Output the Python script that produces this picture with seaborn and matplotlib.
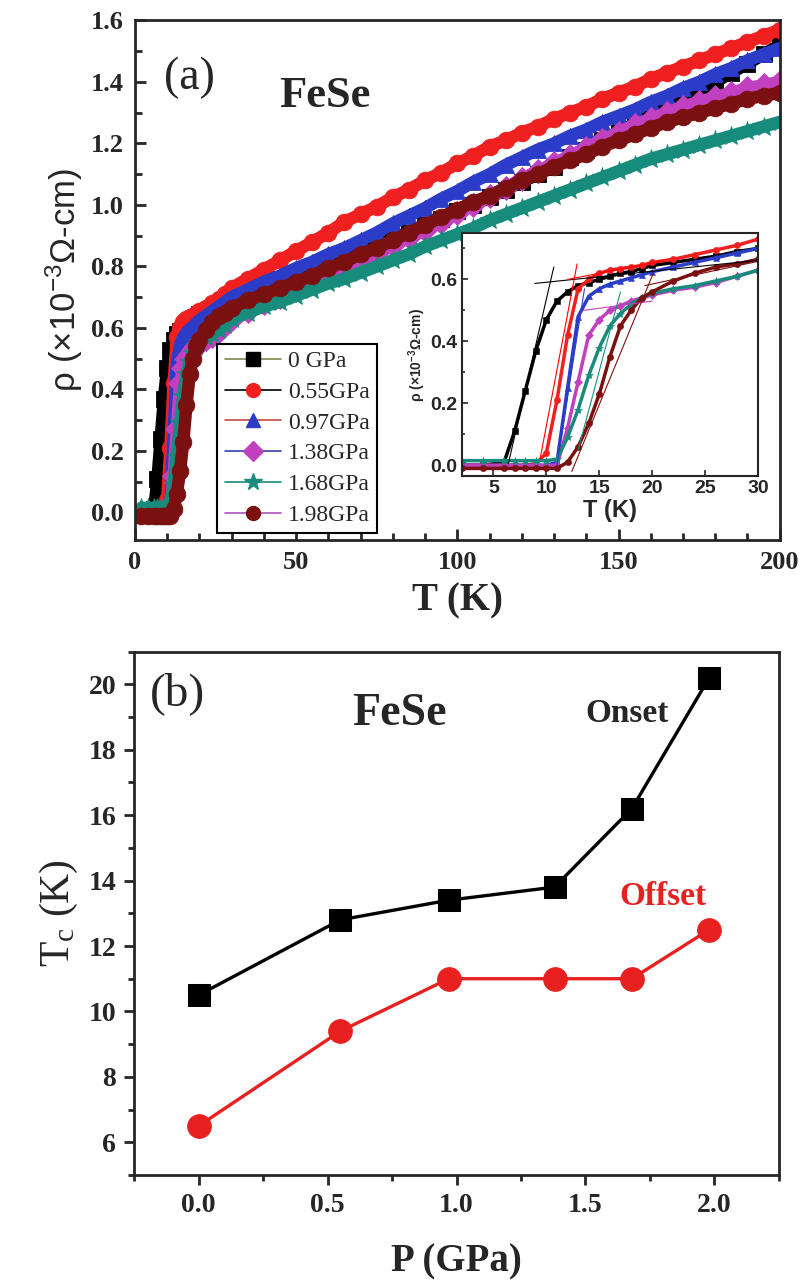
import matplotlib
matplotlib.use('Agg')
from matplotlib import pyplot as plt
from matplotlib.lines import Line2D
from matplotlib.ticker import MultipleLocator
import seaborn as sns
import pandas as pd

####### DATA #######
temps = [2, 4, 6, 7, 8, 9, 10, 11, 12, 13, 14, 15, 16, 17, 18, 19, 20, 22, 24, 26, 28, 30,
         35, 40, 45, 50, 55, 60, 65, 70, 75, 80, 85, 90, 95, 100, 105, 110, 115, 120,
         125, 130, 135, 140, 145, 150, 155, 160, 165, 170, 175, 180, 185, 190, 195, 200]

rho_0 = [0.0, 0.0, 0.01, 0.11, 0.24, 0.37, 0.47, 0.53, 0.56, 0.58, 0.59, 0.60, 0.61, 0.62, 0.625,
         0.635, 0.645, 0.655, 0.665, 0.675, 0.69, 0.70,
         0.72, 0.74, 0.76, 0.78, 0.80, 0.815, 0.83, 0.85, 0.87, 0.89, 0.91, 0.935, 0.955,
         0.98, 1.0, 1.025, 1.05, 1.075, 1.10, 1.125, 1.155, 1.18, 1.21, 1.235, 1.265, 1.29,
         1.32, 1.345, 1.375, 1.40, 1.43, 1.46, 1.49, 1.52]
rho_055 = [0.0, 0.0, 0.0, 0.0, 0.0, 0.005, 0.04, 0.21, 0.42, 0.57, 0.60, 0.62, 0.63, 0.635, 0.64,
           0.645, 0.655, 0.665, 0.68, 0.695, 0.71, 0.73,
           0.76, 0.79, 0.82, 0.85, 0.88, 0.91, 0.945, 0.97, 0.995, 1.025, 1.05, 1.08, 1.105,
           1.135, 1.16, 1.19, 1.21, 1.235, 1.255, 1.28, 1.30, 1.32, 1.345, 1.365, 1.385, 1.41,
           1.43, 1.45, 1.47, 1.49, 1.51, 1.53, 1.55, 1.57]
rho_097 = [0.0, 0.0, 0.0, 0.0, 0.0, 0.0, 0.0, 0.01, 0.25, 0.48, 0.545, 0.57, 0.585, 0.595, 0.605,
           0.615, 0.625, 0.64, 0.655, 0.67, 0.685, 0.70,
           0.725, 0.75, 0.77, 0.795, 0.815, 0.84, 0.86, 0.885, 0.91, 0.94, 0.965, 0.99, 1.02,
           1.045, 1.075, 1.10, 1.13, 1.155, 1.18, 1.20, 1.225, 1.245, 1.27, 1.29, 1.31, 1.335,
           1.355, 1.38, 1.40, 1.425, 1.445, 1.47, 1.49, 1.51]
rho_138 = [0.0, 0.0, 0.0, 0.0, 0.0, 0.0, 0.0, 0.0, 0.12, 0.27, 0.42, 0.47, 0.50, 0.515, 0.53,
           0.54, 0.55, 0.565, 0.575, 0.59, 0.61, 0.63,
           0.655, 0.68, 0.70, 0.725, 0.745, 0.77, 0.795, 0.82, 0.845, 0.87, 0.895, 0.92, 0.945,
           0.975, 1.00, 1.03, 1.055, 1.085, 1.11, 1.135, 1.16, 1.185, 1.21, 1.235, 1.26, 1.28,
           1.30, 1.32, 1.335, 1.35, 1.365, 1.38, 1.39, 1.40]
rho_168 = [0.015, 0.015, 0.015, 0.015, 0.015, 0.015, 0.015, 0.02, 0.09, 0.18, 0.29, 0.38, 0.45,
           0.49, 0.52, 0.54, 0.555, 0.57, 0.58, 0.595, 0.61, 0.63,
           0.65, 0.67, 0.685, 0.705, 0.725, 0.745, 0.76, 0.78, 0.80, 0.82, 0.84, 0.865, 0.885,
           0.905, 0.925, 0.95, 0.97, 0.99, 1.01, 1.03, 1.05, 1.07, 1.09, 1.11, 1.13, 1.15,
           1.165, 1.18, 1.195, 1.21, 1.225, 1.24, 1.255, 1.27]
rho_198 = [-0.01, -0.01, -0.01, -0.01, -0.01, -0.01, -0.01, -0.01, 0.01, 0.06, 0.135, 0.23, 0.35,
           0.45, 0.50, 0.54, 0.56, 0.595, 0.62, 0.64, 0.65, 0.665,
           0.69, 0.71, 0.73, 0.75, 0.77, 0.795, 0.815, 0.84, 0.86, 0.885, 0.91, 0.935, 0.96,
           0.985, 1.01, 1.03, 1.055, 1.08, 1.10, 1.125, 1.145, 1.165, 1.19, 1.21, 1.23, 1.25,
           1.27, 1.285, 1.30, 1.315, 1.33, 1.345, 1.355, 1.365]

labels = ['0 GPa', '0.55GPa', '0.97GPa', '1.38GPa', '1.68GPa', '1.98GPa']
all_rho = [rho_0, rho_055, rho_097, rho_138, rho_168, rho_198]

# tangent lines used for Tc in the inset: (color, T pair, rho pair)
fit_lines = [('black', [6.4, 10.7], [0.005, 0.64]),
             ('black', [8.9, 30.9], [0.587, 0.665]),
             ('red', [9.4, 12.9], [0.02, 0.65]),
             ('red', [12.0, 21.0], [0.60, 0.66]),
             ('#3040c0', [11.0, 13.6], [0.0, 0.57]),
             ('#c040c0', [13.5, 20.0], [0.50, 0.53]),
             ('#1a8f80', [13.0, 17.0], [0.05, 0.56]),
             ('#7a1010', [12.4, 20.1], [-0.02, 0.62]),
             ('#7a1010', [19.3, 30.9], [0.58, 0.665])]

pressure = [0.0, 0.55, 0.97, 1.38, 1.68, 1.98]
tc_onset = [10.5, 12.8, 13.4, 13.8, 16.2, 20.2]
tc_offset = [6.5, 9.4, 11.0, 11.0, 11.0, 12.5]
##### END DATA #####

MARKER_COL = ['#000000', '#f02020', '#2a3cc8', '#c040c0', '#178c7c', '#7a1010']
LINE_COL = ['#7c8a4a', '#000000', '#c04848', '#3040b0', '#178c7c', '#b050c0']
MARKERS = ['s', 'o', '^', 'D', '*', 'o']

sns.set_style('ticks')
plt.rcParams['font.family'] = ['Liberation Serif', 'DejaVu Serif']
plt.rcParams['mathtext.default'] = 'regular'
plt.rcParams['axes.linewidth'] = 2

fig = plt.figure(figsize=(8.03, 12.8), dpi=100)

# ---------- panel (a) ----------
ax = fig.add_axes([0.168, 0.578, 0.803, 0.406])
df = pd.DataFrame({'T': temps * 6,
                   'rho': sum(all_rho, []),
                   'P': sum([[l] * len(temps) for l in labels], [])})
for i, lab in enumerate(labels):
    sub = df[df['P'] == lab]
    sns.lineplot(data=sub, x='T', y='rho', ax=ax, color=MARKER_COL[i], lw=9,
                 marker=MARKERS[i], markersize=15 if MARKERS[i] == '*' else 12,
                 markeredgecolor=MARKER_COL[i], markeredgewidth=0.6,
                 estimator=None, sort=False, legend=False)
ax.set_xlim(0, 200)
ax.set_ylim(-0.09, 1.6)
ax.xaxis.set_major_locator(MultipleLocator(50))
ax.xaxis.set_minor_locator(MultipleLocator(10))
ax.yaxis.set_major_locator(MultipleLocator(0.2))
ax.yaxis.set_minor_locator(MultipleLocator(0.1))
ax.tick_params(which='both', direction='in', width=2, labelsize=19, pad=8)
ax.tick_params(which='major', length=8)
ax.tick_params(which='minor', length=5)
for t in ax.get_xticklabels() + ax.get_yticklabels():
    t.set_fontweight('bold')
ax.set_xlabel('T (K)', fontsize=28, fontweight='bold', labelpad=6)
ax.set_ylabel('ρ (×10$^{-3}$Ω-cm)', fontsize=25, family='Liberation Sans', labelpad=4)
ax.text(0.045, 0.89, '(a)', transform=ax.transAxes, fontsize=33, va='center')
ax.text(0.295, 0.855, 'FeSe', transform=ax.transAxes, fontsize=32, fontweight='bold',
        ha='center', va='center')

handles = [Line2D([], [], color=LINE_COL[i], lw=1.2, marker=MARKERS[i],
                  markerfacecolor=MARKER_COL[i], markeredgecolor=MARKER_COL[i],
                  markersize=13 if MARKERS[i] == '*' else 10) for i in range(6)]
leg = ax.legend(handles, labels, loc='lower left', bbox_to_anchor=(0.128, 0.014),
                fontsize=17, frameon=True, fancybox=False, framealpha=1,
                edgecolor='black', handlelength=2.4, handletextpad=0.3,
                borderpad=0.3, labelspacing=0.39, borderaxespad=0)
leg.get_frame().set_linewidth(1.5)

# ---------- inset ----------
ins = fig.add_axes([0.575, 0.628, 0.369, 0.19])
low = df[df['T'] <= 30]
for i, lab in enumerate(labels):
    sub = low[low['P'] == lab]
    sns.lineplot(data=sub, x='T', y='rho', ax=ins, color=MARKER_COL[i], lw=2.5,
                 marker=MARKERS[i], markersize=6 if MARKERS[i] == '*' else 4.5,
                 markeredgecolor=MARKER_COL[i], markeredgewidth=0.4,
                 estimator=None, sort=False, legend=False)
for col, xs, ys in fit_lines:
    ins.plot(xs, ys, color=col, lw=0.8)
ins.set_xlim(2, 30)
ins.set_ylim(-0.035, 0.75)
ins.xaxis.set_major_locator(MultipleLocator(5))
ins.yaxis.set_major_locator(MultipleLocator(0.2))
ins.yaxis.set_minor_locator(MultipleLocator(0.1))
ins.tick_params(which='both', direction='in', width=1.2, labelsize=14, pad=3)
ins.tick_params(which='major', length=4)
ins.tick_params(which='minor', length=2.5)
for sp in ins.spines.values():
    sp.set_linewidth(1.5)
for t in ins.get_xticklabels() + ins.get_yticklabels():
    t.set_fontweight('bold')
    t.set_family('Liberation Sans')
ins.set_xlabel('T (K)', fontsize=17, fontweight='bold', family='Liberation Sans', labelpad=1)
ins.set_ylabel('ρ (×10$^{-3}$Ω-cm)', fontsize=10, fontweight='bold', family='Liberation Sans',
               labelpad=2)

# ---------- panel (b) ----------
bx = fig.add_axes([0.167, 0.082, 0.803, 0.409])
tc = pd.DataFrame({'P': pressure * 2, 'Tc': tc_onset + tc_offset,
                   'kind': ['Onset'] * 6 + ['Offset'] * 6})
sns.lineplot(data=tc[tc['kind'] == 'Onset'], x='P', y='Tc', ax=bx, color='black', lw=2.4,
             marker='s', markersize=16, markeredgecolor='black', estimator=None, legend=False)
sns.lineplot(data=tc[tc['kind'] == 'Offset'], x='P', y='Tc', ax=bx, color='#e82020', lw=2.4,
             marker='o', markersize=17, markeredgecolor='#e82020', estimator=None, legend=False)
bx.set_xlim(-0.25, 2.25)
bx.set_ylim(5, 21)
bx.xaxis.set_major_locator(MultipleLocator(0.5))
bx.xaxis.set_minor_locator(MultipleLocator(0.25))
bx.yaxis.set_major_locator(MultipleLocator(2))
bx.yaxis.set_minor_locator(MultipleLocator(1))
bx.tick_params(which='both', direction='out', width=2, labelsize=20, pad=6)
bx.tick_params(which='major', length=7)
bx.tick_params(which='minor', length=4)
for t in bx.get_xticklabels() + bx.get_yticklabels():
    t.set_fontweight('bold')
bx.set_xlabel('P (GPa)', fontsize=28, fontweight='bold', labelpad=18)
bx.set_ylabel('T$_c$ (K)', fontsize=30, labelpad=6)
bx.text(-0.19, 19.7, '(b)', fontsize=34, va='center')
bx.text(0.78, 19.1, 'FeSe', fontsize=33, fontweight='bold', ha='center', va='center')
bx.text(1.66, 19.1, 'Onset', fontsize=24, fontweight='bold', ha='center', va='center')
bx.text(1.8, 13.5, 'Offset', fontsize=24, fontweight='bold', color='#e82020',
        ha='center', va='center')

fig.savefig('out.png', dpi=100)
